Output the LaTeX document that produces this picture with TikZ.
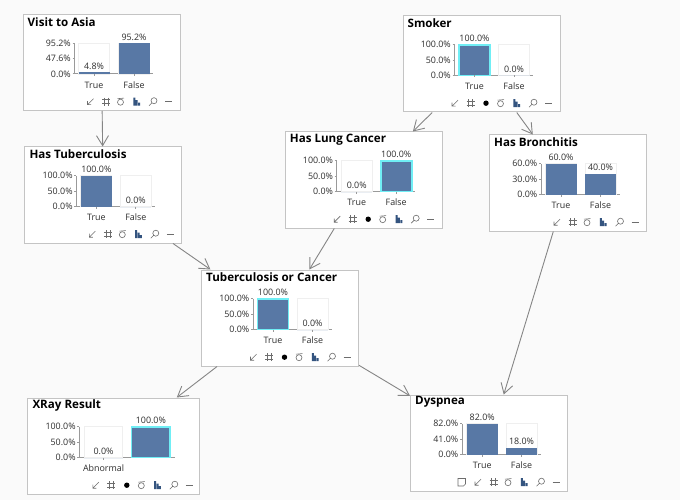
\documentclass[tikz,border=0pt]{standalone}
\usepackage{fontspec}
\setmainfont{Open Sans}
\usetikzlibrary{arrows.meta}
\definecolor{pagebg}{HTML}{FAFAFA}
\definecolor{cardline}{HTML}{C4C4C4}
\definecolor{barblue}{HTML}{5878A5}
\definecolor{barhot}{HTML}{70EEF5}
\definecolor{barempty}{HTML}{EFEFEF}
\definecolor{axisgray}{HTML}{9A9A9A}
\definecolor{linkgray}{HTML}{858585}
\definecolor{inkgray}{HTML}{2E2E2E}
\definecolor{iconblue}{HTML}{34547F}
\tikzset{
 card/.style={draw=cardline,fill=white,line width=1pt,anchor=north west,minimum width=157pt,minimum height=96pt,inner sep=0pt},
 cardtitle/.style={anchor=west,inner sep=0pt,font=\fontsize{11.6}{14}\selectfont\bfseries},
 ticktext/.style={anchor=east,inner sep=0pt,text=inkgray,font=\fontsize{8.9}{10}\selectfont},
 bartext/.style={inner sep=0pt,text=inkgray,font=\fontsize{8.9}{10}\selectfont},
 axisline/.style={draw=axisgray,line width=1pt},
 hot/.style={draw=barhot,line width=1.6pt},
 link/.style={draw=linkgray,line width=.9pt,-{Straight Barb[length=10pt,width=12pt]}},
 iconline/.style={draw=inkgray!70,line width=.6pt}
}
% card with title and axis: [style], name, x, y, title, top tick, mid tick, end of baseline
\newcommand{\bncard}[8][]{
 \node[card,#1] (#2) at (#3,#4) {};
 \begin{scope}[shift={(#2.north west)}]
  \node[cardtitle] (#2-title) at (5,7.7) {#5};
  \node[ticktext] (#2-top) at (48.5,29.3) {#6};
  \node[ticktext] (#2-mid) at (48.5,44.6) {#7};
  \node[ticktext] (#2-low) at (48.5,60) {0.0\%};
  \draw[axisline] (52,29.3)--(52,60);
  \draw[axisline] (50,29.3)--(52,29.3) (50,44.6)--(52,44.6);
  \draw[axisline] (50,60)--(#8,60);
 \end{scope}
}
% one bar: [style], card, id, left, fraction, label, value, width
\newcommand{\bnbar}[8][]{
 \begin{scope}[shift={(#2.north west)}]
  \draw[barempty,fill=white,line width=.8pt] (#4,29.3) rectangle (#4+#8,60);
  \fill[barblue] (#4,60-30.7*#5) rectangle (#4+#8,60);
  \draw[draw=none,#1] (#4,60-30.7*#5) rectangle (#4+#8,60);
  \node[bartext] (#2-#3-value) at (#4+#8/2,60-30.7*#5-6.3) {#7};
  \if\relax\detokenize{#6}\relax\else
   \draw[axisline,line width=.7pt] (#4+#8/2,60)--(#4+#8/2,62);
   \node[bartext] (#2-#3-label) at (#4+#8/2,71) {#6};
  \fi
 \end{scope}
}
% icon row: [offset of the row], card, shift of the two left icons
\newcommand{\bnicons}[3][0]{
 \begin{scope}[shift={(#2.north west)},yshift=-87.7pt,xshift=#1pt]
  \draw[iconline] (68-#3+3,-3)--(68-#3-3,3) (68-#3-3,-.5)--(68-#3-3,3)--(68-#3+.5,3);
  \draw[iconline] (83.5-#3-2,-4)--(83.5-#3-2,4) (83.5-#3+2,-4)--(83.5-#3+2,4) (83.5-#3-4,-2)--(83.5-#3+4,-2) (83.5-#3-4,2)--(83.5-#3+4,2);
  \draw[iconline] (98,.5) circle (3);
  \draw[iconline] (95,-3)--(101.5,-3.6);
  \fill[iconblue] (110.8,-4) rectangle (112.8,4) (113.2,-1.5) rectangle (115.2,4) (115.6,1) rectangle (117.6,4);
  \draw[iconline] (131.5,-1) circle (3) (129.4,1.1)--(126.5,4);
  \draw[iconline] (142.5,0)--(149.5,0);
 \end{scope}
}
\newcommand{\bndot}[2][0]{\fill[black,shift={(#2.north west)},xshift=#1pt] (83.5,87.7) circle (2.7);}
\newcommand{\bnnote}[1]{\draw[iconline,shift={(#1.north west)}] (48,84)--(55.5,84)--(55.5,89.5)--(53.5,91.5)--(48,91.5)--cycle;}

\begin{document}
\begin{tikzpicture}[x=1pt,y=-1pt]
 \fill[pagebg] (0,0) rectangle (680,500); %background
 \useasboundingbox (0,0) rectangle (680,500);

 \bncard{visit}{22.5}{14}{Visit to Asia}{95.2\%}{47.6\%}{130.5}
 \bnbar{visit}{t}{56}{.05}{True}{4.8\%}{31}
 \bnbar{visit}{f}{96}{1}{False}{95.2\%}{31}
 \bnicons{visit}{0}

 \bncard{smoker}{402.5}{15.5}{Smoker}{100.0\%}{50.0\%}{130.5}
 \bnbar[hot]{smoker}{t}{56.5}{1}{True}{100.0\%}{31}
 \bnbar{smoker}{f}{96}{0}{False}{0.0\%}{31}
 \bnicons{smoker}{15.5}
 \bndot{smoker}

 \bncard{tub}{24.3}{146.5}{Has Tuberculosis}{100.0\%}{50.0\%}{130.5}
 \bnbar{tub}{t}{56.5}{1}{True}{100.0\%}{31}
 \bnbar{tub}{f}{96}{0}{False}{0.0\%}{31}
 \bnicons{tub}{0}

 \bncard{lung}{284.7}{131.5}{Has Lung Cancer}{100.0\%}{50.0\%}{130.5}
 \bnbar{lung}{t}{56.5}{0}{True}{0.0\%}{31}
 \bnbar[hot]{lung}{f}{96}{1}{False}{100.0\%}{31}
 \bnicons{lung}{15.5}
 \bndot{lung}

 \bncard{bronch}{489}{134.5}{Has Bronchitis}{60.0\%}{30.0\%}{130.5}
 \bnbar{bronch}{t}{56.5}{1}{True}{60.0\%}{31}
 \bnbar{bronch}{f}{96}{.667}{False}{40.0\%}{31}
 \bnicons{bronch}{0}

 \bncard{either}{201}{269.5}{Tuberculosis or Cancer}{100.0\%}{50.0\%}{130.5}
 \bnbar[hot]{either}{t}{56.5}{1}{True}{100.0\%}{31}
 \bnbar{either}{f}{96}{0}{False}{0.0\%}{31}
 \bnicons{either}{15.5}
 \bndot{either}

 \bncard[minimum width=172pt]{xray}{27.3}{397.5}{XRay Result}{100.0\%}{50.0\%}{147.7}
 \bnbar{xray}{t}{57}{0}{Abnormal}{0.0\%}{38.5}
 \bnbar[hot]{xray}{f}{104.3}{1}{}{100.0\%}{38.5}
 \bnicons[16]{xray}{15.5}
 \bndot[16]{xray}

 \bncard{dysp}{410}{394.5}{Dyspnea}{82.0\%}{41.0\%}{130.5}
 \bnbar{dysp}{t}{56.7}{1}{True}{82.0\%}{31}
 \bnbar{dysp}{f}{96}{.22}{False}{18.0\%}{31}
 \bnicons{dysp}{0}
 \bnnote{dysp}

 \draw[link] (visit)--(tub);
 \draw[link] (smoker)--(lung);
 \draw[link] (smoker)--(bronch);
 \draw[link] (tub)--(either);
 \draw[link] (lung)--(either);
 \draw[link] (bronch)--(dysp);
 \draw[link] (either)--(xray);
 \draw[link] (either)--(dysp);
\end{tikzpicture}
\end{document}
